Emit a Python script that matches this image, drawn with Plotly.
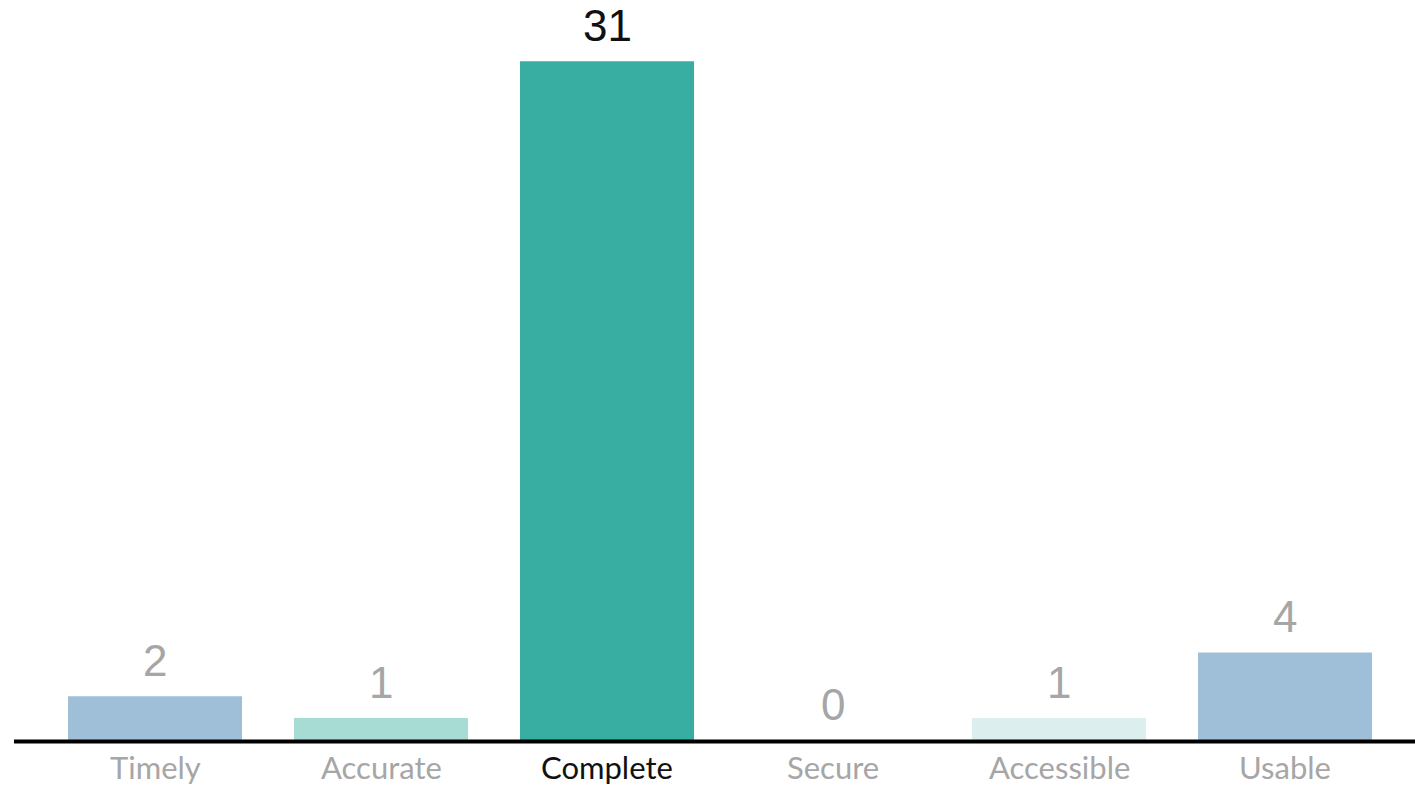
import plotly.graph_objects as go

categories = ["Timely", "Accurate", "Complete", "Secure", "Accessible", "Usable"]
values = [2, 1, 31, 0, 1, 4]
bar_colors = ["#9fbfd8", "#a7dcd4", "#38ada2", "#ffffff", "#ddeeef", "#9fbfd8"]
label_colors = ["#a6a6a6", "#a6a6a6", "#111111", "#a6a6a6", "#a6a6a6", "#a6a6a6"]

x = list(range(len(categories)))

fig = go.Figure(go.Bar(
    x=x, y=values, marker=dict(color=bar_colors, line=dict(width=0)),
    width=0.77, hoverinfo="skip",
))

for xi, v, c in zip(x, values, label_colors):
    fig.add_annotation(x=xi, y=v, text=str(v), showarrow=False, yanchor="bottom",
                       yshift=9, font=dict(family="Liberation Sans, Arial", size=44, color=c))

for xi, cat, c in zip(x, categories, label_colors):
    fig.add_annotation(x=xi, y=0, yref="paper", text=cat, showarrow=False, yanchor="top",
                       yshift=-6, font=dict(family="Lato, Liberation Sans", size=31, color=c))

fig.update_layout(
    width=1415, height=786,
    margin=dict(l=14, r=0, t=0, b=46),
    paper_bgcolor="white", plot_bgcolor="white",
    showlegend=False,
    xaxis=dict(range=[-0.624, 5.575], showticklabels=False, showgrid=False, zeroline=False,
               showline=False, fixedrange=True),
    yaxis=dict(range=[0, 33.8], visible=False, showgrid=False, zeroline=False, fixedrange=True),
    shapes=[dict(type="line", xref="paper", yref="paper", x0=0, x1=1, y0=-0.002, y1=-0.002,
                 layer="above", line=dict(color="black", width=4))],
)

fig.write_html("out.html")
